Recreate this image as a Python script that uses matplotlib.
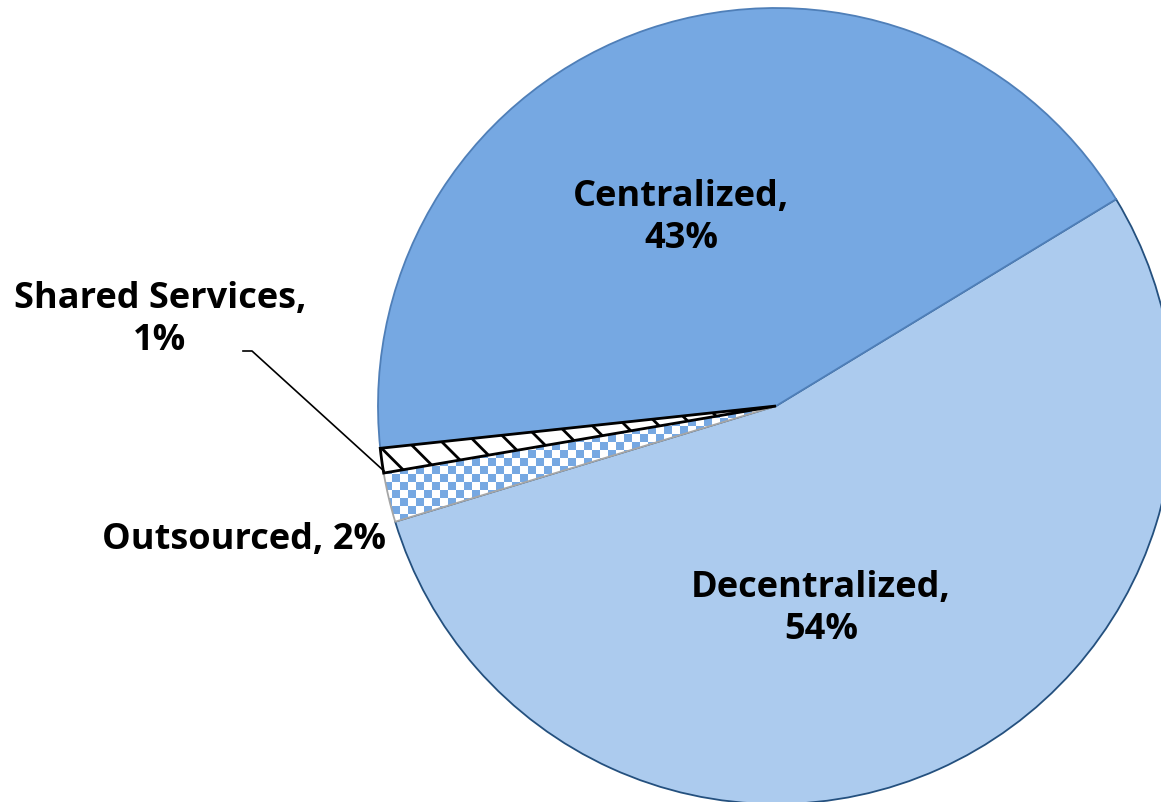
import numpy as np
import matplotlib
matplotlib.use("Agg")
import matplotlib.pyplot as plt
from matplotlib.colors import ListedColormap

categories = ["Centralized", "Shared Services", "Outsourced", "Decentralized"]
values = [43, 1, 2, 54]

W, H = 1161, 803
fig = plt.figure(figsize=(W / 100, H / 100), dpi=100)
ax = fig.add_axes([0, 0, 1, 1])

cx, cy, R = 776, H - 407, 398
plt.rcParams['hatch.linewidth'] = 2.0
plt.rcParams['hatch.color'] = 'black'

fills = ["#76A8E2", "white", "white", "#ACCBEE"]
edges = ["#4F7FB8", "black", "#A6A6A6", "#24507E"]
wedges, _ = ax.pie(values, startangle=31.3, counterclock=True, center=(cx, cy),
                   radius=R, colors=fills, frame=True,
                   wedgeprops=dict(linewidth=1.3))
for w, ec in zip(wedges, edges):
    w.set_edgecolor(ec)
wedges[1].set_hatch('\\')
wedges[1].set_linewidth(2.0)
wedges[3].set_zorder(1)
wedges[0].set_zorder(2)
wedges[2].set_zorder(3)
wedges[1].set_zorder(4)

# checkerboard texture for Outsourced
sq = 8
nx, ny = W // sq + 1, H // sq + 1
iy, ix = np.indices((ny, nx))
chk = ((ix + iy) % 2).astype(float)
cmap = ListedColormap(["white", "#76A8E2"])
im = ax.imshow(chk, cmap=cmap, extent=(0, nx * sq, 0, ny * sq), origin='lower',
               interpolation='nearest', zorder=2.5)
im.set_clip_path(wedges[2])
wedges[2].set_facecolor('none')

ax.set_xlim(0, W)
ax.set_ylim(0, H)
ax.set_aspect('auto')
ax.axis('off')

font = dict(family="Open Sans", fontweight="bold", fontsize=26, color="black",
            ha="center", va="center", linespacing=1.2, zorder=10)
ax.text(681, H - 218, f"{categories[0]},\n{values[0]}%", **font)
ax.text(821, H - 609, f"{categories[3]},\n{values[3]}%", **font)
ax.text(160, H - 320, f"{categories[1]},\n{values[1]}%", **font)
ax.text(244, H - 540, f"{categories[2]}, {values[2]}%", **font)

# leader line for Shared Services
ax.plot([243, 252, 384], [H - 352, H - 352, H - 472], color="black", lw=1.2, zorder=9)

fig.savefig("out.png", dpi=100)
